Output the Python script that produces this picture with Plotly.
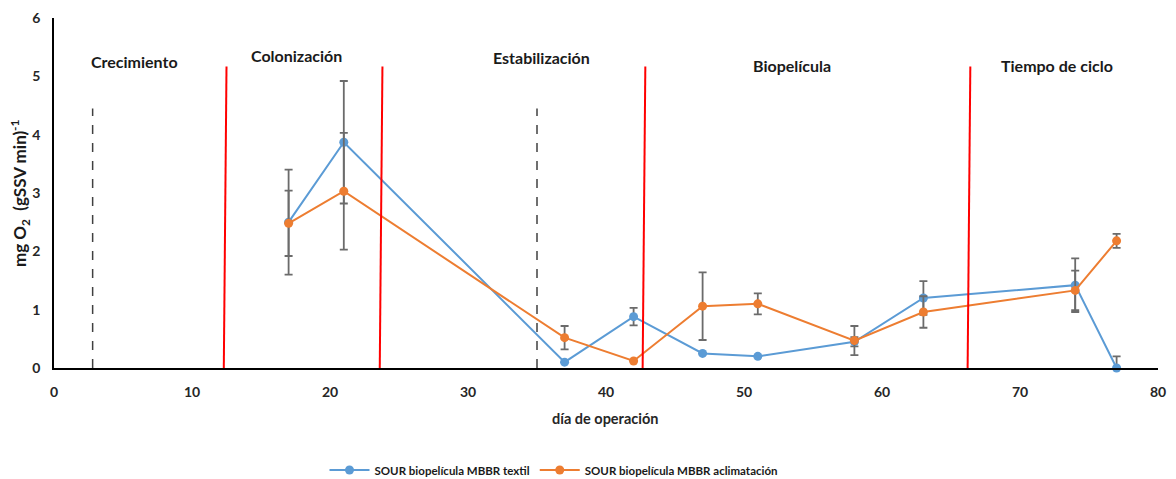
import plotly.graph_objects as go

days = [17, 21, 37, 42, 47, 51, 58, 63, 74, 77]
sour_textil = [2.50, 3.87, 0.10, 0.88, 0.25, 0.20, 0.45, 1.20, 1.42, 0.00]
err_textil = [0.90, 1.05, 0.00, 0.15, 0.00, 0.00, 0.08, 0.29, 0.46, 0.20]
sour_aclim = [2.48, 3.03, 0.52, 0.12, 1.06, 1.10, 0.47, 0.96, 1.33, 2.18]
err_aclim = [0.56, 1.00, 0.20, 0.00, 0.58, 0.18, 0.25, 0.27, 0.34, 0.12]

red_lines = [12.4, 23.7, 42.75, 66.3]
dashed_lines = [2.8, 35.0]
phase_names = ["Crecimiento", "Colonización", "Estabilización", "Biopelícula", "Tiempo de ciclo"]
phase_x = [5.8, 17.6, 35.3, 53.5, 72.7]
phase_y = [5.25, 5.35, 5.33, 5.18, 5.18]

font = "Lato"
blue = "#5B9BD5"
orange = "#ED7D31"
errc = "#6b6b6b"

# page has an 8px body margin; compensate
W, H = 1168, 471
L, R, T, B = 46, 18, 10, 111
PW = W - L - R
PH = H - T - B

fig = go.Figure()
fig.add_trace(go.Scatter(
    x=days, y=sour_textil, mode="lines+markers", name="SOUR biopelícula MBBR textil",
    line=dict(color=blue, width=2), marker=dict(color=blue, size=9),
    error_y=dict(type="data", array=err_textil, color=errc, thickness=1.8, width=4, visible=True),
))
fig.add_trace(go.Scatter(
    x=days, y=sour_aclim, mode="lines+markers", name="SOUR biopelícula MBBR aclimatación",
    line=dict(color=orange, width=2), marker=dict(color=orange, size=9),
    error_y=dict(type="data", array=err_aclim, color=errc, thickness=1.8, width=4, visible=True),
))

for xv in red_lines:
    fig.add_shape(type="line", x0=xv + 0.1, x1=xv - 0.1, y0=5.17, y1=-0.13,
                  xref="x", yref="y", line=dict(color="#FF0000", width=2))
for xv in dashed_lines:
    fig.add_shape(type="line", x0=xv, x1=xv, y0=0, y1=4.45,
                  xref="x", yref="y", line=dict(color="#404040", width=1.5, dash="dash"))

for name, xv, yv in zip(phase_names, phase_x, phase_y):
    fig.add_annotation(x=xv, y=yv, text="<b>%s</b>" % name, showarrow=False,
                       font=dict(family=font, size=16, color="#1a1a1a"))

fig.add_annotation(xref="paper", yref="paper", x=(12 - L) / PW, xanchor="center", y=0.5,
                   text="<b>mg O<sub>2</sub>  (gSSV min)<sup>-1</sup></b>", textangle=-90,
                   showarrow=False, font=dict(family=font, size=17, color="#1a1a1a"))
fig.add_annotation(xref="paper", yref="paper", x=(605 - 8 - L) / PW, y=0, showarrow=False,
                   text="<b>día de operación</b>", font=dict(family=font, size=14.5, color="#262626"),
                   yanchor="middle", yshift=-50)

transparent = "rgba(0,0,0,0)"
fig.update_layout(
    width=W, height=H,
    margin=dict(l=L, r=R, t=T, b=B, autoexpand=False),
    plot_bgcolor="white", paper_bgcolor="white",
    font=dict(family=font, size=13, color="#262626"),
    showlegend=True,
    legend=dict(orientation="h", x=(554 - 8 - L) / PW, xanchor="center", y=-102 / PH, yanchor="middle",
                font=dict(family=font, size=11.5, color="#1a1a1a", weight="bold"),
                itemwidth=40, traceorder="normal", borderwidth=0,
                bgcolor=transparent),
    xaxis=dict(range=[0, 80], tickvals=[0, 10, 20, 30, 40, 50, 60, 70, 80], automargin=False,
               showgrid=False, zeroline=False, showline=True, linecolor="black", linewidth=1.5,
               ticks="outside", ticklen=10, tickcolor=transparent,
               tickfont=dict(family=font, size=14, color="#262626", weight="bold")),
    yaxis=dict(range=[0, 6], tickvals=[0, 1, 2, 3, 4, 5, 6], automargin=False,
               showgrid=False, zeroline=False, showline=True, linecolor="black", linewidth=1.5,
               ticks="outside", ticklen=9, tickcolor=transparent,
               tickfont=dict(family=font, size=14, color="#262626", weight="bold")),
)
fig.update_traces(cliponaxis=False)
fig.write_html("out.html")
